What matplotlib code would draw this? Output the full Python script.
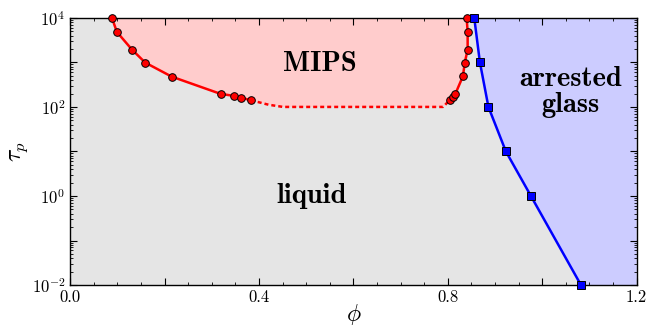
import matplotlib
matplotlib.use("Agg")
import matplotlib.pyplot as plt
import numpy as np
from matplotlib.ticker import FuncFormatter, LogLocator, MultipleLocator, NullFormatter

plt.rcParams['font.family'] = 'cmr10'
plt.rcParams['mathtext.fontset'] = 'cm'
plt.rcParams['axes.unicode_minus'] = False

# MIPS boundary, low-density branch (phi, log10 tau_p)
mips_left_phi = [0.089, 0.099, 0.131, 0.159, 0.215, 0.319, 0.348, 0.361, 0.383]
mips_left_logtau = [3.99, 3.685, 3.288, 2.996, 2.681, 2.292, 2.247, 2.209, 2.151]

# MIPS boundary, high-density branch
mips_right_phi = [0.805, 0.810, 0.816, 0.832, 0.836, 0.842, 0.842, 0.840]
mips_right_logtau = [2.164, 2.231, 2.292, 2.690, 2.996, 3.288, 3.685, 3.99]

# dotted (extrapolated) bottom of MIPS region
dotted_phi = [0.383, 0.42, 0.451, 0.79, 0.805]
dotted_logtau = [2.151, 2.05, 2.0, 2.0, 2.164]

# glass line
glass_phi = [0.856, 0.868, 0.886, 0.923, 0.976, 1.082]
glass_logtau = [4.0, 3.0, 2.0, 1.0, 0.0, -2.0]

tau = lambda a: 10.0 ** np.asarray(a)

fig = plt.figure(figsize=(6.49, 3.25), dpi=100)
ax = fig.add_axes([0.108, 0.123, 0.873, 0.822])
ax.set_facecolor('#e5e5e5')
ax.set_yscale('log')
ax.set_xlim(0, 1.2)
ax.set_ylim(1e-2, 1e4)

# pink MIPS region
mx = mips_left_phi + dotted_phi[1:-1] + mips_right_phi
my = list(tau(mips_left_logtau)) + list(tau(dotted_logtau[1:-1])) + list(tau(mips_right_logtau))
ax.fill(mx, my, color='#ffcccc', lw=0, zorder=1)

# blue glass region
gx = glass_phi + [1.2, 1.2]
gy = list(tau(glass_logtau)) + [1e-2, 1e4]
ax.fill(gx, gy, color='#ccccff', lw=0, zorder=1)

ax.plot(dotted_phi, tau(dotted_logtau), color='red', lw=1.8, dashes=(1.6, 1.2), zorder=2)
ax.plot(mips_left_phi, tau(mips_left_logtau), color='red', lw=1.8, marker='o', ms=5.5,
        mec='black', mew=0.7, zorder=3, clip_on=False)
ax.plot(mips_right_phi, tau(mips_right_logtau), color='red', lw=1.8, marker='o', ms=5.5,
        mec='black', mew=0.7, zorder=3, clip_on=False)
ax.plot(glass_phi, tau(glass_logtau), color='blue', lw=1.8, marker='s', ms=5.5,
        mec='black', mew=0.7, zorder=3, clip_on=False)

ax.text(0.529, 9e2, 'MIPS', family='cmb10', fontsize=20.5, ha='center', va='center')
ax.text(0.512, 1.0, 'liquid', family='cmb10', fontsize=20.5, ha='center', va='center')
ax.text(1.06, 2.2e2, 'arrested\nglass', family='cmb10', fontsize=20.5, ha='center',
        va='center', linespacing=1.0)

ax.xaxis.set_major_locator(MultipleLocator(0.2))
ax.xaxis.set_minor_locator(MultipleLocator(0.05))
ax.xaxis.set_major_formatter(FuncFormatter(
    lambda v, p: '%.1f' % v if abs(round(v / 0.4) * 0.4 - v) < 1e-6 else ''))
ax.yaxis.set_major_locator(LogLocator(base=10, numticks=20))
ax.yaxis.set_minor_locator(LogLocator(base=10, subs=np.arange(2, 10), numticks=20))
ax.yaxis.set_minor_formatter(NullFormatter())
ax.yaxis.set_major_formatter(FuncFormatter(
    lambda v, p: r'$10^{%d}$' % round(np.log10(v)) if round(np.log10(v)) % 2 == 0 else ''))
ax.tick_params(which='both', direction='in', top=True, right=True, labelsize=12)
ax.tick_params(which='major', length=5, width=0.8)
ax.tick_params(which='minor', length=2.5, width=0.6)
for s in ax.spines.values():
    s.set_linewidth(1.0)

ax.set_xlabel(r'$\phi$', fontsize=17)
ax.set_ylabel(r'$\tau_p$', fontsize=17)
ax.xaxis.set_label_coords(0.5, -0.062)
ax.yaxis.set_label_coords(-0.07, 0.5)

fig.savefig('out.png', dpi=100)
